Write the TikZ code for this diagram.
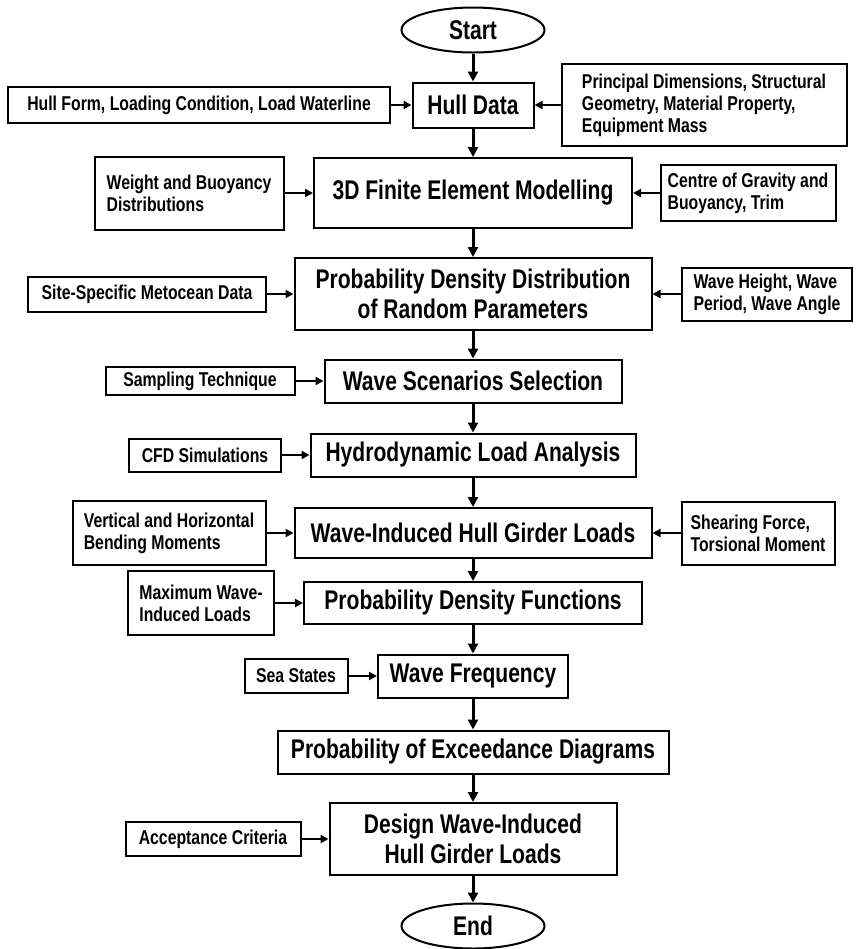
\documentclass[tikz,border=0pt]{standalone}
\usepackage{fontspec}
\newfontfamily\narrowsf{Liberation Sans}[FakeStretch=0.78]
\newfontfamily\narrowsmall{Liberation Sans}[FakeStretch=0.79]
\usetikzlibrary{arrows.meta,shapes.geometric}

\begin{document}
\begin{tikzpicture}[x=0.5pt,y=-0.5pt,
  big/.style={draw, line width=1pt, inner sep=0pt, align=center, font=\narrowsf\bfseries\fontsize{13.5}{15}\selectfont},
  side/.style={draw, line width=1pt, inner sep=0pt, align=left, font=\narrowsmall\bfseries\fontsize{10}{11}\selectfont},
  term/.style={ellipse, draw, line width=1pt, inner sep=0pt, minimum width=71.5pt, minimum height=22.5pt, font=\narrowsf\bfseries\fontsize{13.5}{15}\selectfont},
  flow/.style={line width=1.5pt, -{Triangle[length=5pt,width=5pt]}},
  feed/.style={line width=1pt, -{Triangle[length=4pt,width=4pt]}}]
\useasboundingbox (0,0) rectangle (856,949);
% main column
\node[term] (start) at (473,30) {Start};
\node[big, minimum width=60.5pt, minimum height=22.5pt] (hull) at (473,105) {Hull Data};
\node[big, minimum width=159pt, minimum height=35pt] (fem) at (473,193) {3D Finite Element Modelling};
\node[big, minimum width=178.5pt, minimum height=36pt] (pdd) at (473,294) {Probability Density Distribution\\of Random Parameters};
\node[big, minimum width=148.5pt, minimum height=21.5pt] (scen) at (473,381) {Wave Scenarios Selection};
\node[big, minimum width=162.5pt, minimum height=21.5pt] (hydro) at (473,455) {Hydrodynamic Load Analysis};
\node[big, minimum width=178.5pt, minimum height=25pt] (wihgl) at (473,533) {Wave-Induced Hull Girder Loads};
\node[big, minimum width=169pt, minimum height=21pt] (pdf) at (473,603) {Probability Density Functions};
\node[big, minimum width=95pt, minimum height=21.5pt] (wfreq) at (473,676) {Wave Frequency};
\node[big, minimum width=195.5pt, minimum height=21.5pt] (poe) at (473,752) {Probability of Exceedance Diagrams};
\node[big, minimum width=143.5pt, minimum height=36pt] (design) at (473,839) {Design Wave-Induced\\Hull Girder Loads};
\node[term] (end) at (473,926) {End};
% inputs
\node[side, minimum width=191pt, minimum height=18pt] (form) at (199,105) {Hull Form, Loading Condition, Load Waterline};
\node[side, minimum width=142.5pt, minimum height=41pt] (dims) at (704,105) {Principal Dimensions, Structural\\Geometry, Material Property,\\Equipment Mass};
\node[side, minimum width=94.5pt, minimum height=36.5pt] (weight) at (189,193) {Weight and Buoyancy\\Distributions};
\node[side, minimum width=87.5pt, minimum height=28pt] (cog) at (748,193) {Centre of Gravity and\\Buoyancy, Trim};
\node[side, minimum width=119pt, minimum height=17.5pt] (site) at (147,294) {Site-Specific Metocean Data};
\node[side, minimum width=85pt, minimum height=26.5pt] (wave) at (767,294) {Wave Height, Wave\\Period, Wave Angle};
\node[side, minimum width=94.5pt, minimum height=14pt] (samp) at (200,381) {Sampling Technique};
\node[side, minimum width=76pt, minimum height=16.5pt] (cfd) at (205,455) {CFD Simulations};
\node[side, minimum width=96.5pt, minimum height=32pt] (bend) at (169,533) {Vertical and Horizontal\\Bending Moments};
\node[side, minimum width=76.5pt, minimum height=31.5pt] (shear) at (758,533) {Shearing Force,\\Torsional Moment};
\node[side, minimum width=73pt, minimum height=32pt] (maxw) at (201,603) {Maximum Wave-\\Induced Loads};
\node[side, minimum width=51.5pt, minimum height=17pt] (sea) at (296,676) {Sea States};
\node[side, minimum width=87.5pt, minimum height=17pt] (accept) at (213,839) {Acceptance Criteria};

\foreach \a/\b in {start/hull,hull/fem,fem/pdd,pdd/scen,scen/hydro,hydro/wihgl,wihgl/pdf,pdf/wfreq,wfreq/poe,poe/design,design/end}
  \draw[flow] (\a) -- (\b);
\foreach \a/\b in {form/hull,dims/hull,weight/fem,cog/fem,site/pdd,wave/pdd,samp/scen,cfd/hydro,bend/wihgl,shear/wihgl,maxw/pdf,sea/wfreq,accept/design}
  \draw[feed] (\a) -- (\b);
\end{tikzpicture}
\end{document}
